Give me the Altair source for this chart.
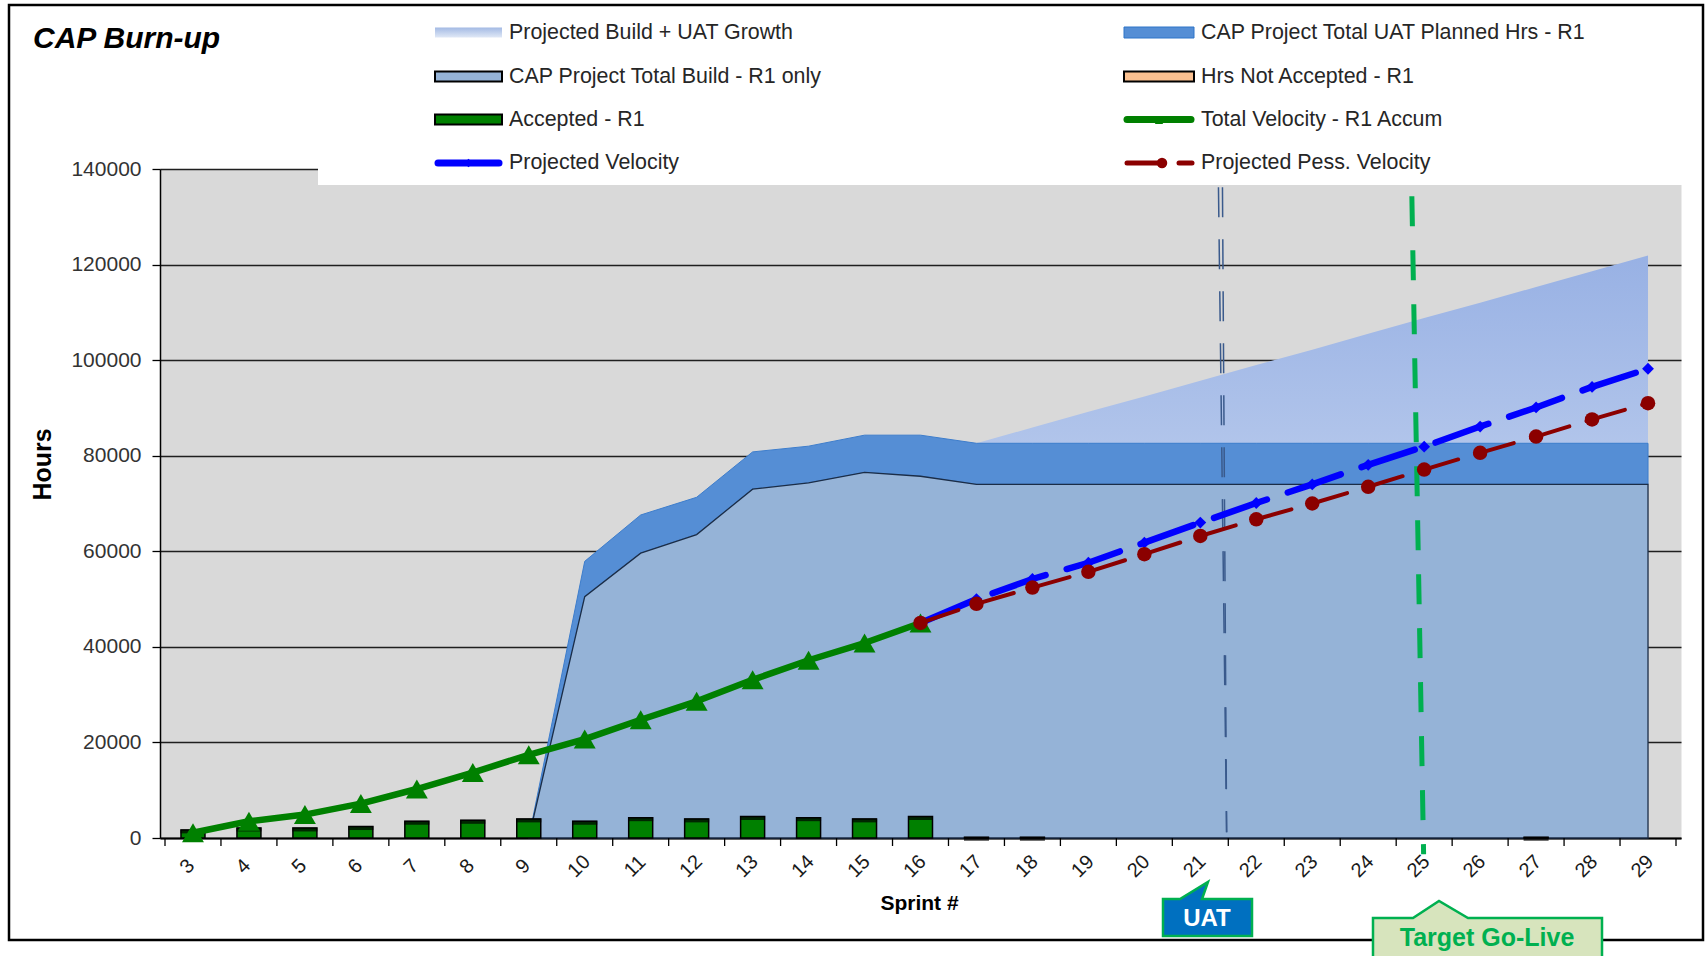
import altair as alt
import pandas as pd

# ---------------- data ----------------
sprints = list(range(3, 30))
accepted = [1700, 2100, 2100, 2400, 3500, 3700, 4000, 3500, 4250, 4000, 4500, 4250, 4000, 4500,
            150, 150, 0, 0, 0, 0, 0, 0, 0, 0, 150, 0, 0]

velocity_sprints = list(range(3, 17))
total_velocity = [1100, 3500, 4900, 7200, 10250, 13700, 17400, 20700, 24750, 28600, 33100, 37200, 40800, 45000]

build_sprints = list(range(9, 30))
total_build = [0, 50500, 59600, 63500, 73000, 74300, 76500, 75700,
               74000, 74000, 74000, 74000, 74000, 74000, 74000, 74000, 74000, 74000, 74000, 74000, 74000]
uat_planned = [0, 7400, 8000, 7800, 7800, 7700, 7800, 8600,
               8600, 8600, 8600, 8600, 8600, 8600, 8600, 8600, 8600, 8600, 8600, 8600, 8600]

growth_sprints = list(range(17, 30))
growth = [82600, 85900, 89200, 92400, 95700, 99000, 102200, 105500, 108800, 112000, 115300, 118600, 121900]

proj_sprints = list(range(16, 30))
proj_velocity = [45000, 50000, 54200, 57600, 61800, 66000, 70100, 74000, 78100, 81900, 86100, 90100, 94400, 98200]
pess_velocity = [45000, 49000, 52400, 55700, 59400, 63200, 66700, 70000, 73500, 77100, 80600, 84000, 87600, 91000]

uat_marker = {"sprint": [21.36], "sprint2": [21.47], "hours": [136200], "hours2": [1200]}
golive_marker = {"sprint": [24.78], "sprint2": [24.99], "hours": [134300], "hours2": [-3400]}

legend_left = ["Projected Build + UAT Growth", "CAP Project Total Build - R1 only", "Accepted - R1", "Projected Velocity"]
legend_right = ["CAP Project Total UAT Planned Hrs - R1", "Hrs Not Accepted - R1", "Total Velocity - R1 Accum",
                "Projected Pess. Velocity"]

title_text = "CAP Burn-up"
x_title = "Sprint #"
y_title = "Hours"

# ---------------- layout ----------------
W, H = 1521, 669
PL, PT = 160, 169
FONT = "Liberation Sans"

def px(v):  # full-image x -> plot x
    return v - PL

def py(v):  # full-image y -> plot y
    return v - PT

x_axis = alt.Axis(values=sprints, labelAngle=-45, labelAlign="center", labelBaseline="middle",
                  labelPadding=28, labelOffset=-6, ticks=False, tickSize=0, grid=False,
                  domainColor="black", domainWidth=2,
                  labelFont=FONT, labelFontSize=20, labelColor="#1a1a1a",
                  title=x_title, titleFont=FONT, titleFontSize=21, titleFontWeight="bold", titleColor="black",
                  titleBaseline="middle", titleAlign="center", titleX=759, titleY=65)
y_axis = alt.Axis(values=list(range(0, 140001, 20000)), format="d", grid=True, gridColor="#1f1f1f", gridWidth=1.3,
                  tickSize=8, tickColor="black", tickWidth=1.3, domainColor="black", domainWidth=1.5,
                  labelFont=FONT, labelFontSize=21, labelColor="#333333", labelPadding=11,
                  title=y_title, titleFont=FONT, titleFontSize=25, titleFontWeight="bold", titleColor="black",
                  titleAngle=-90, titleBaseline="middle", titleAlign="center", titleX=-118, titleY=295)

xs = alt.Scale(domain=[2.5, 29.5], nice=False, zero=False)
ys = alt.Scale(domain=[0, 140000], nice=False)
X = alt.X("sprint:Q", scale=xs, axis=x_axis)
Y = alt.Y("hours:Q", scale=ys, axis=y_axis)

acc_df = pd.DataFrame({"sprint": sprints, "hours": accepted})
acc_df = acc_df[acc_df.hours > 0]
vel_df = pd.DataFrame({"sprint": velocity_sprints, "hours": total_velocity})
build_df = pd.DataFrame({"sprint": build_sprints, "build": total_build, "uat": uat_planned})
build_df["hours"] = build_df["build"]
build_df["hours2"] = 0
uat_df = build_df.copy()
uat_df["hours"] = build_df["build"] + build_df["uat"]
uat_df["hours2"] = build_df["build"]
growth_df = pd.DataFrame({"sprint": growth_sprints, "hours": growth, "hours2": [0] * len(growth)})
proj_df = pd.DataFrame({"sprint": proj_sprints, "hours": proj_velocity})
pess_df = pd.DataFrame({"sprint": proj_sprints, "hours": pess_velocity})
uat_line_df = pd.DataFrame(uat_marker)
golive_df = pd.DataFrame(golive_marker)
ticks_df = pd.DataFrame({"sprint": [s - 0.5 for s in sprints] + [sprints[-1] + 0.5]})

one = pd.DataFrame({"a": [0]})

growth_grad = alt.Gradient(gradient="linear", x1=0, y1=0, x2=0, y2=1,
                           stops=[alt.GradientStop(color="#98B1E4", offset=0),
                                  alt.GradientStop(color="#B3C6EB", offset=0.35),
                                  alt.GradientStop(color="#D8E2F4", offset=1)])

layers = []
layers.append(alt.Chart(growth_df).mark_area(color=growth_grad).encode(x=X, y=Y, y2="hours2:Q"))
layers.append(alt.Chart(uat_df).mark_area(color="#558ED5", stroke="#3D7DCC", strokeWidth=1).encode(
    x=X, y=Y, y2="hours2:Q"))
layers.append(alt.Chart(build_df).mark_area(color="#95B3D7", stroke="#1b2d47", strokeWidth=1.3).encode(
    x=X, y=Y, y2="hours2:Q"))
layers.append(alt.Chart(acc_df).mark_bar(size=24, color="#008000", stroke="black", strokeWidth=1.5).encode(x=X, y=Y))
layers.append(alt.Chart(acc_df).mark_tick(orient="horizontal", size=25, thickness=4, color="black",
                                          yOffset=1.5).encode(x=X, y=Y))
layers.append(alt.Chart(vel_df).mark_line(color="#008000", strokeWidth=6.5, strokeJoin="round").encode(x=X, y=Y))
layers.append(alt.Chart(vel_df).mark_point(shape="triangle-up", size=480, filled=True, color="#008000",
                                           opacity=1).encode(x=X, y=Y))
for off in (-2, 2):
    layers.append(alt.Chart(uat_line_df).mark_rule(color="#3A5A8C", strokeWidth=1.5, strokeDash=[30, 22],
                                                   xOffset=off).encode(x=X, x2="sprint2:Q", y=Y, y2="hours2:Q"))
layers.append(alt.Chart(golive_df).mark_rule(color="#00B050", strokeWidth=5, strokeDash=[30, 24]).encode(
    x=X, x2="sprint2:Q", y=Y, y2="hours2:Q"))
layers.append(alt.Chart(proj_df).mark_line(color="#0000FF", strokeWidth=6.5, strokeDash=[56, 22],
                                           strokeCap="round").encode(x=X, y=Y))
layers.append(alt.Chart(proj_df).mark_point(shape="diamond", size=140, filled=True, color="#0000FF",
                                            opacity=1).encode(x=X, y=Y))
layers.append(alt.Chart(pess_df).mark_line(color="#8B0000", strokeWidth=4, strokeDash=[40, 18],
                                           strokeCap="round").encode(x=X, y=Y))
layers.append(alt.Chart(pess_df).mark_point(shape="circle", size=210, filled=True, color="#8B0000",
                                            opacity=1).encode(x=X, y=Y))
# x-axis ticks at band boundaries
layers.append(alt.Chart(ticks_df).mark_rule(color="black", strokeWidth=1.3).encode(
    x=X, y=alt.value(H), y2=alt.value(H + 8)))


def rect(x1, x2, y1, y2, **kw):
    return alt.Chart(one).mark_rect(**kw).encode(x=alt.value(x1), x2=alt.value(x2), y=alt.value(y1), y2=alt.value(y2))


def seg(x1, x2, y1, y2, **kw):
    return alt.Chart(one).mark_rule(**kw).encode(x=alt.value(x1), x2=alt.value(x2), y=alt.value(y1), y2=alt.value(y2))


def sym(x, y, **kw):
    return alt.Chart(one).mark_point(filled=True, opacity=1, **kw).encode(x=alt.value(x), y=alt.value(y))


def txt(x, y, s, **kw):
    return alt.Chart(one).mark_text(**kw).encode(x=alt.value(x), y=alt.value(y), text=alt.value(s))


# white legend box overlapping the top of the plot
layers.append(rect(px(318), px(1686), -3, py(185), color="white"))

rows_y = [py(32.5), py(76.5), py(119.5), py(163)]
lx1, lx2, ltx = px(435), px(502), px(509)
rx1, rx2, rtx = px(1124), px(1194), px(1201)

legend_grad = alt.Gradient(gradient="linear", x1=0, y1=0, x2=0, y2=1,
                           stops=[alt.GradientStop(color="#A3BAE4", offset=0),
                                  alt.GradientStop(color="#E0E8F6", offset=1)])
layers.append(rect(lx1, lx2, rows_y[0] - 5, rows_y[0] + 5, color=legend_grad))
layers.append(rect(lx1, lx2, rows_y[1] - 5, rows_y[1] + 5, color="#95B3D7", stroke="black", strokeWidth=2))
layers.append(rect(lx1, lx2, rows_y[2] - 5, rows_y[2] + 5, color="#008000", stroke="black", strokeWidth=2))
layers.append(seg(lx1 + 3, lx2 - 3, rows_y[3], rows_y[3], color="#0000FF", strokeWidth=7, strokeCap="round"))
layers.append(sym((lx1 + lx2) / 2, rows_y[3], shape="diamond", size=70, color="#0000FF"))

layers.append(rect(rx1, rx2, rows_y[0] - 5.5, rows_y[0] + 5.5, color="#558ED5", stroke="#2E75C8", strokeWidth=1))
layers.append(rect(rx1, rx2, rows_y[1] - 5, rows_y[1] + 5, color="#FAC090", stroke="black", strokeWidth=2))
layers.append(seg(rx1 + 3, rx2 - 3, rows_y[2], rows_y[2], color="#008000", strokeWidth=7, strokeCap="round"))
layers.append(sym((rx1 + rx2) / 2, rows_y[2] + 1, shape="triangle-up", size=70, color="#008000"))
layers.append(seg(rx1 + 3, rx1 + 36, rows_y[3], rows_y[3], color="#8B0000", strokeWidth=5, strokeCap="round"))
layers.append(sym(rx1 + 38, rows_y[3], shape="circle", size=110, color="#8B0000"))
layers.append(seg(rx1 + 55, rx2 - 2, rows_y[3], rows_y[3], color="#8B0000", strokeWidth=5, strokeCap="round"))

for i, s in enumerate(legend_left):
    layers.append(txt(ltx, rows_y[i], s, align="left", baseline="middle", font=FONT, fontSize=21.4, color="#262626"))
for i, s in enumerate(legend_right):
    layers.append(txt(rtx, rows_y[i], s, align="left", baseline="middle", font=FONT, fontSize=21.4, color="#262626"))

# title
layers.append(txt(px(33), py(48), title_text, align="left", baseline="alphabetic", font=FONT, fontSize=30,
                  fontWeight="bold", fontStyle="italic", color="black"))

# outer chart frame (under the callouts)
layers.append(rect(px(9), px(1703), py(5), py(940), fillOpacity=0, stroke="black", strokeWidth=2.5))

# callouts
uat_path = ("M -0.989 -0.222 L -0.611 -0.222 L 0.011 -0.6 L -0.122 -0.222 L 0.989 -0.222 "
            "L 0.989 0.6 L -0.989 0.6 Z")
layers.append(alt.Chart(one).mark_point(shape=uat_path, size=90 * 90, filled=True, fill="#0070C0",
                                        stroke="#00B050", strokeWidth=2.5, opacity=1).encode(
    x=alt.value(px(1207.5)), y=alt.value(py(909))))
layers.append(txt(px(1207), py(919), "UAT", align="center", baseline="middle", font=FONT, fontSize=24,
                  fontWeight="bold", color="white"))
go_path = ("M -0.9957 -0.1174 L -0.648 -0.1174 L -0.4217 -0.2652 L -0.1696 -0.1174 L 0.9957 -0.1174 "
           "L 0.9957 0.265 L -0.9957 0.265 Z")
layers.append(alt.Chart(one).mark_point(shape=go_path, size=230 * 230, filled=True, fill="#D7E4BD",
                                        stroke="#00B050", strokeWidth=2.5, opacity=1).encode(
    x=alt.value(px(1487.5)), y=alt.value(py(931.5))))
layers.append(txt(px(1487), py(938), "Target Go-Live", align="center", baseline="middle", font=FONT,
                  fontSize=25, fontWeight="bold", color="#00B050"))

chart = alt.layer(*layers).properties(
    width=W, height=H,
    autosize=alt.AutoSizeParams(type="none"),
    padding={"left": PL, "top": PT, "right": 1706 - PL - W, "bottom": 956 - PT - H},
    background="white",
).configure_view(fill="#D9D9D9", stroke="transparent")

chart.save("out.html", embed_options={"renderer": "svg", "actions": False})
